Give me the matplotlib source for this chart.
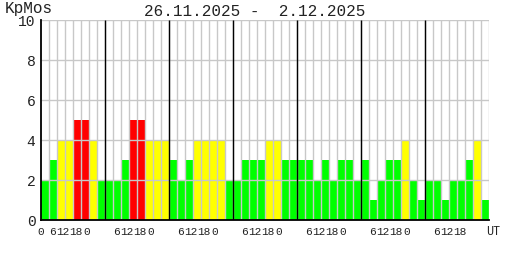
import numpy as np
import matplotlib
matplotlib.use('Agg')
import matplotlib.pyplot as plt
import matplotlib.transforms as mtransforms

# 3-hourly Kp values, 26.11.2025 - 2.12.2025 (8 per day)
kp = [2, 3, 4, 4, 5, 5, 4, 2,
      2, 2, 3, 5, 5, 4, 4, 4,
      3, 2, 3, 4, 4, 4, 4, 2,
      2, 3, 3, 3, 4, 4, 3, 3,
      3, 3, 2, 3, 2, 3, 3, 2,
      3, 1, 2, 3, 3, 4, 2, 1,
      2, 2, 1, 2, 2, 3, 4, 1]
n_days = 7
bars_per_day = 8
title = "26.11.2025 -  2.12.2025"
ylabel = "KpMos"
yticks = [0, 2, 4, 6, 8, 10]
hour_labels = ["6", "12", "18", "0"]

# label offsets inside a day, in bar units (labels are packed tight in the original)
hour_offsets = [1.45, 2.7, 4.4, 5.75]


def bar_color(v):
    if v >= 5:
        return '#ff0000'
    if v >= 4:
        return '#ffff00'
    return '#00ff00'


plt.rcParams['font.family'] = ['Liberation Mono', 'DejaVu Sans Mono']

fig = plt.figure(figsize=(5.08, 2.60), dpi=100)
W, H = 508, 260
ax = fig.add_axes([41 / W, 1 - 220 / H, 448 / W, 200 / H])

n = len(kp)
x = np.arange(n)
ax.bar(x, kp, width=1, align='edge', color=[bar_color(v) for v in kp],
       linewidth=0, zorder=1)

# grid over the bars
ax.vlines(np.arange(1, n + 1), 0, 10, colors='#c8c8c8', linewidth=1, zorder=2)
ax.hlines(yticks[1:], 0, n, colors='#c8c8c8', linewidth=1, zorder=2)
ax.vlines(np.arange(1, n_days) * bars_per_day, 0, 10, colors='black',
          linewidth=1, zorder=3)

ax.set_xlim(0, n)
ax.set_ylim(0, 10)
ax.spines['top'].set_visible(False)
ax.spines['right'].set_visible(False)
ax.spines['left'].set_linewidth(1.3)
ax.spines['bottom'].set_linewidth(1.3)
ax.spines['left'].set_zorder(4)
ax.spines['bottom'].set_zorder(4)

ax.set_xticks([])
ax.set_yticks(yticks)
ax.set_yticklabels([str(t) for t in yticks], fontsize=10.5, color='#222222')
ax.tick_params(axis='y', length=0, pad=4)

# hour labels under the axis
trans = mtransforms.blended_transform_factory(ax.transData, ax.transAxes)
ylab = -12 / 200
xfs = 8
ax.text(-0.1, ylab, "0", transform=trans, ha='center', va='center',
        fontsize=xfs, color='#222222')
for d in range(n_days):
    for lab, off in zip(hour_labels, hour_offsets):
        if d == n_days - 1 and lab == "0":
            continue
        ax.text(d * bars_per_day + off, ylab, lab, transform=trans,
                ha='center', va='center', fontsize=xfs, color='#222222')
ax.text(n + 0.55, ylab, "UT", transform=trans, ha='center', va='center',
        fontsize=xfs + 0.5, color='#222222')

fig.text(5 / W, 1 - 8 / H, ylabel, ha='left', va='center', fontsize=11.5,
         color='#222222')
fig.text(255 / W, 1 - 11 / H, title, ha='center', va='center', fontsize=11.5,
         color='#222222')

fig.savefig('out.png', dpi=100)
